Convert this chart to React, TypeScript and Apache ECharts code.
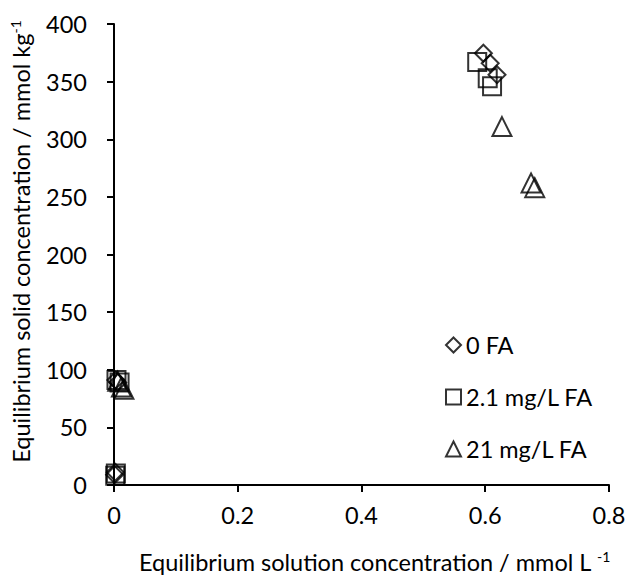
import React, { useEffect, useRef } from "react";
import * as echarts from "echarts";

const xTicks = [0, 0.2, 0.4, 0.6, 0.8];
const yTicks = [0, 50, 100, 150, 200, 250, 300, 350, 400];

const seriesNames = ["0 FA", "2.1 mg/L FA", "21 mg/L FA"];
const seriesSymbols = ["diamond", "rect", "triangle"];

const fa0: number[][] = [
  [0.003, 91], [0.006, 89], [0.001, 9], [0.002, 11],
  [0.597, 374.6], [0.608, 366], [0.619, 356],
];
const fa2: number[][] = [
  [0.004, 91], [0.009, 89], [0.002, 8], [0.003, 10],
  [0.587, 367], [0.604, 353], [0.611, 346],
];
const fa21: number[][] = [
  [0.006, 90], [0.012, 85], [0.016, 83],
  [0.627, 311], [0.674, 262], [0.68, 258],
];
const seriesData = [fa0, fa2, fa21];

const FONT = "Lato";
const FS = 23.5;

export default function App() {
  const ref = useRef<HTMLDivElement>(null);
  useEffect(() => {
    if (!ref.current) return;
    const chart = echarts.init(ref.current, null, { renderer: "svg" });
    const sizes = [17, 18, 19];
    chart.setOption({
      animation: false,
      backgroundColor: "#fff",
      textStyle: { fontFamily: FONT, color: "#000" },
      grid: { left: 113, right: 20, top: 24, bottom: 93 },
      legend: {
        orient: "vertical",
        left: 440,
        top: 328,
        itemGap: 28,
        itemWidth: 15,
        itemHeight: 15,
        textStyle: { fontFamily: FONT, fontSize: FS, color: "#000", padding: [0, 0, 0, 0] },
        data: seriesNames.map((n, i) => ({ name: n, icon: seriesSymbols[i] })),
      },
      xAxis: {
        type: "value",
        min: xTicks[0],
        max: xTicks[xTicks.length - 1],
        interval: 0.2,
        splitLine: { show: false },
        axisLine: { show: true, lineStyle: { color: "#000", width: 2 } },
        axisTick: { show: true, inside: false, length: 7, lineStyle: { color: "#000", width: 2 } },
        axisLabel: { fontFamily: FONT, fontSize: FS, color: "#000", margin: 18 },
        name: "{a|Equilibrium solution concentration / mmol L }{s|-1}",
        nameLocation: "middle",
        nameGap: 64,
        nameTextStyle: {
          padding: [0, 0, 0, 26],
          rich: {
            a: { fontFamily: FONT, fontSize: FS, color: "#000" },
            s: { fontFamily: FONT, fontSize: 14, color: "#000", verticalAlign: "top", padding: [0, 0, 12, 0] },
          },
        },
      },
      yAxis: {
        type: "value",
        min: yTicks[0],
        max: yTicks[yTicks.length - 1],
        interval: 50,
        splitLine: { show: false },
        axisLine: { show: true, lineStyle: { color: "#000", width: 2 } },
        axisTick: { show: true, inside: false, length: 7, lineStyle: { color: "#000", width: 2 } },
        axisLabel: { fontFamily: FONT, fontSize: FS, color: "#000", margin: 27 },
        name: "{a|Equilibrium solid concentration / mmol kg}{s|-1}",
        nameLocation: "middle",
        nameGap: 80,
        nameTextStyle: {
          padding: [0, 0, 0, 26],
          rich: {
            a: { fontFamily: FONT, fontSize: FS, color: "#000" },
            s: { fontFamily: FONT, fontSize: 14, color: "#000", verticalAlign: "top", padding: [0, 0, 12, 0] },
          },
        },
      },
      series: seriesNames.map((n, i) => ({
        name: n,
        type: "scatter",
        symbol: seriesSymbols[i],
        symbolSize: sizes[i],
        data: seriesData[i],
        itemStyle: { color: "rgba(0,0,0,0)", borderColor: "#000", borderWidth: 2 },
        emphasis: { disabled: true },
      })),
    });
    return () => chart.dispose();
  }, []);
  return (
    <div
      ref={ref}
      style={{ position: "fixed", left: 0, top: 0, width: 629, height: 579 }}
    />
  );
}
